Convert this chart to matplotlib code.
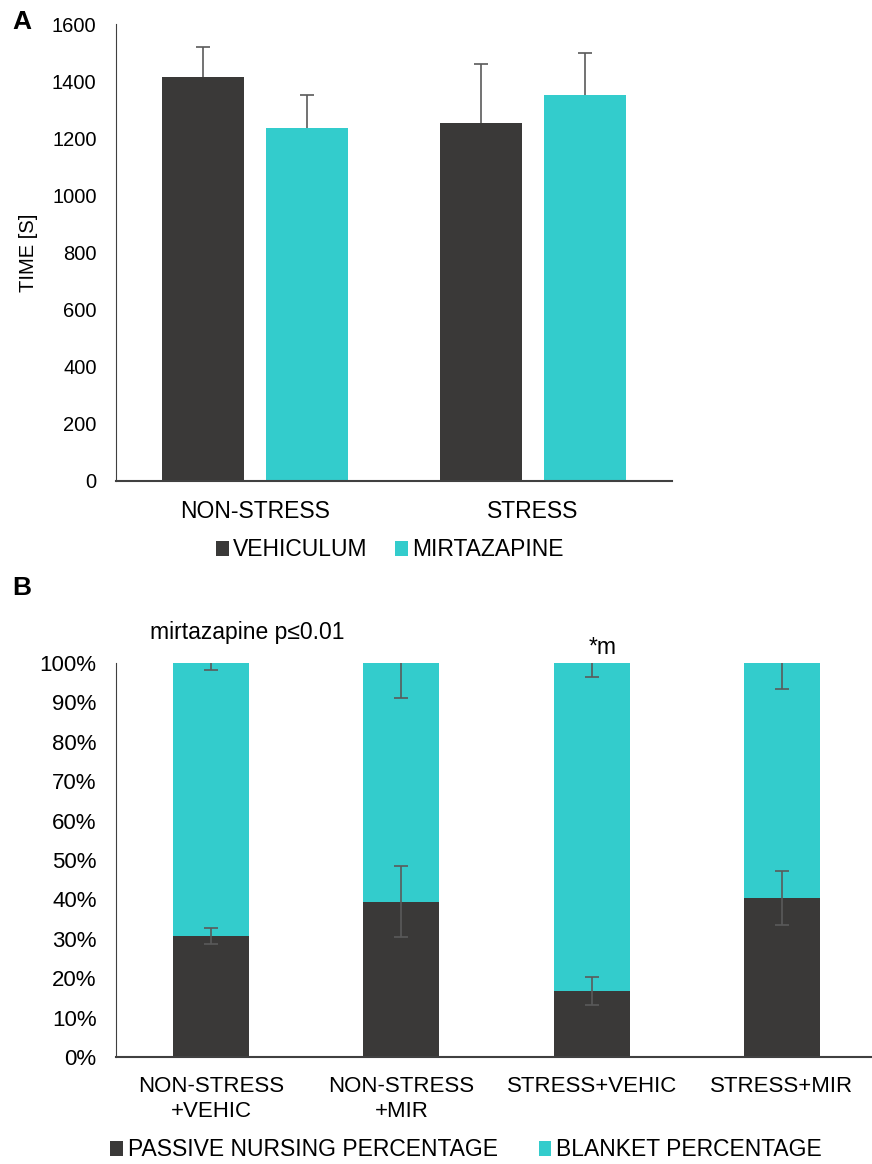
import matplotlib
matplotlib.use("Agg")
import matplotlib.pyplot as plt
import numpy as np

plt.rcParams['font.family'] = ['Liberation Sans', 'DejaVu Sans']

DARK = '#3a3938'
TEAL = '#33cccc'
ERR = '#5a5a5a'

# panel A data
groups_a = ['NON-STRESS', 'STRESS']
vehic = [1415, 1255]
vehic_err = [105, 205]
mirt = [1235, 1350]
mirt_err = [118, 150]

# panel B data
groups_b = ['NON-STRESS\n+VEHIC', 'NON-STRESS\n+MIR', 'STRESS+VEHIC', 'STRESS+MIR']
passive = [30.7, 39.4, 16.8, 40.4]
passive_err = [2.0, 9.0, 3.6, 6.8]
blanket = [69.3, 60.6, 83.2, 59.6]
blanket_err = [1.9, 8.9, 3.5, 6.7]

fig = plt.figure(figsize=(8.72, 11.64), dpi=100)

# ---- panel A
axA = fig.add_axes([116/872, 1 - 481/1164, 556/872, 457/1164])
x = np.arange(len(groups_a))
w = 0.296
off = 0.188
ek = dict(ecolor=ERR, elinewidth=1.2, capsize=5, capthick=1.2)
b1 = axA.bar(x - off, vehic, w, color=DARK, label='VEHICULUM',
             yerr=[np.zeros(2), vehic_err], error_kw=ek)
b2 = axA.bar(x + off, mirt, w, color=TEAL, label='MIRTAZAPINE',
             yerr=[np.zeros(2), mirt_err], error_kw=ek)
# only the upper cap is drawn
for b in (b1, b2):
    b.errorbar.lines[1][0].set_visible(False)
axA.set_xlim(-0.5, 1.5)
axA.set_ylim(0, 1600)
axA.set_yticks(range(0, 1601, 200))
axA.set_xticks(x)
axA.set_xticklabels(groups_a)
axA.tick_params(axis='y', length=0, labelsize=14.5, pad=14)
axA.tick_params(axis='x', length=0, labelsize=16.5, pad=14)
for s in ['top', 'right']:
    axA.spines[s].set_visible(False)
axA.spines['left'].set_color('#404040')
axA.spines['bottom'].set_color('#404040')
axA.spines['bottom'].set_linewidth(1.5)
axA.set_ylabel('TIME [S]', fontsize=14.5, labelpad=10)
axA.legend(loc='center', bbox_to_anchor=(390/872, 1 - 550/1164),
           bbox_transform=fig.transFigure, ncol=2, frameon=False,
           fontsize=16.5, handlelength=0.55, handleheight=0.65,
           handletextpad=0.2, columnspacing=1.2)
fig.text(12/872, 1 - 22/1164, 'A', fontsize=19, fontweight='bold', va='center')

# ---- panel B
axB = fig.add_axes([116/872, 1 - 1057/1164, 761/872, 394/1164])
xb = np.arange(len(groups_b))
wb = 0.40
ekb = dict(ecolor=ERR, elinewidth=1.2, capsize=5, capthick=1.2)
axB.bar(xb, passive, wb, color=DARK, label='PASSIVE NURSING PERCENTAGE',
        yerr=passive_err, error_kw=ekb, zorder=2)
axB.bar(xb, blanket, wb, bottom=passive, color=TEAL, label='BLANKET PERCENTAGE',
        zorder=1)
eb = axB.errorbar(xb, np.add(passive, blanket), yerr=[blanket_err, np.zeros(4)],
                  fmt='none', zorder=3, **ekb)
eb.lines[1][1].set_visible(False)
axB.set_xlim(-0.5, 3.5)
axB.set_ylim(0, 100)
axB.set_yticks(range(0, 101, 10))
axB.set_yticklabels([f'{v}%' for v in range(0, 101, 10)])
axB.set_xticks(xb)
axB.set_xticklabels(groups_b, linespacing=1.25)
axB.tick_params(length=0, labelsize=16, pad=14)
for s in ['top', 'right']:
    axB.spines[s].set_visible(False)
axB.spines['left'].set_color('#404040')
axB.spines['bottom'].set_color('#404040')
axB.spines['bottom'].set_linewidth(1.5)
axB.legend(loc='center', bbox_to_anchor=(466/872, 1 - 1150/1164),
           bbox_transform=fig.transFigure, ncol=2, frameon=False,
           fontsize=16.5, handlelength=0.55, handleheight=0.65,
           handletextpad=0.2, columnspacing=1.8)
fig.text(150/872, 1 - 633/1164, 'mirtazapine p≤0.01', fontsize=16.5, va='center')
fig.text(603/872, 1 - 648/1164, '*m', fontsize=16.5, va='center', ha='center')
fig.text(12/872, 1 - 588/1164, 'B', fontsize=19, fontweight='bold', va='center')

fig.savefig('out.png', dpi=100)
